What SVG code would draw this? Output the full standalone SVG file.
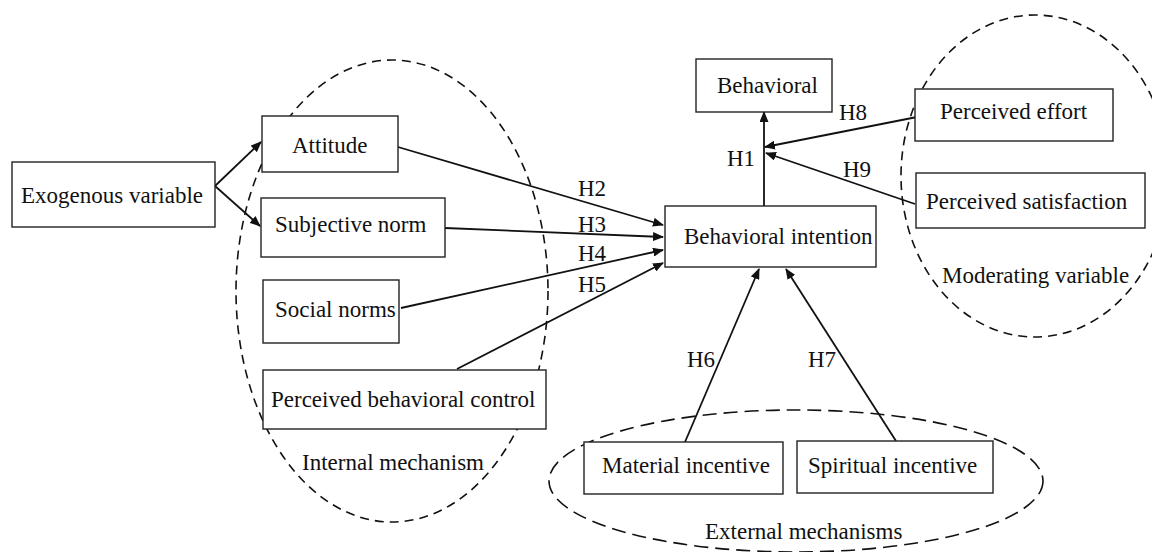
<svg xmlns="http://www.w3.org/2000/svg" width="1152" height="552" viewBox="0 0 1152 552">
<defs>
<style>
.box{fill:#fff;stroke:#222;stroke-width:1.4}
.e{fill:none;stroke:#111;stroke-width:1.6;stroke-dasharray:9 6}
.e2{fill:none;stroke:#111;stroke-width:1.6;stroke-dasharray:14 7}
.c{fill:none;stroke:#111;stroke-width:1.8;marker-end:url(#ah)}
</style>
<marker id="ah" markerUnits="userSpaceOnUse" markerWidth="11" markerHeight="9" refX="10" refY="4.5" orient="auto">
<path d="M0,0 L11,4.5 L0,9 Z" fill="#111"/>
</marker>
</defs>
<rect width="1152" height="552" fill="#fff"/>
<g font-family="Liberation Serif, Times New Roman, DejaVu Serif, serif" font-size="23" fill="#111">
<g id="groups">
<ellipse class="e" cx="392" cy="291" rx="156" ry="231"/>
<ellipse class="e" cx="1035" cy="176" rx="134" ry="161"/>
<ellipse class="e2" cx="796" cy="481" rx="247" ry="71"/>
<text x="302" y="470">Internal mechanism</text>
<text x="942" y="283">Moderating variable</text>
<text x="705" y="539">External mechanisms</text>
</g>
<g id="connectors">
<line class="c" x1="215" y1="186" x2="261" y2="142"/>
<line class="c" x1="215" y1="186" x2="260" y2="226"/>
<line class="c" x1="398" y1="147" x2="663" y2="225"/>
<line class="c" x1="445" y1="228" x2="663" y2="237"/>
<line class="c" x1="401" y1="308" x2="663" y2="250"/>
<line class="c" x1="457" y1="369" x2="663" y2="263"/>
<line class="c" x1="764" y1="206" x2="764" y2="112"/>
<line class="c" x1="917" y1="117" x2="765" y2="147"/>
<line class="c" x1="915" y1="204" x2="766" y2="153"/>
<line class="c" x1="685" y1="442" x2="759" y2="269"/>
<line class="c" x1="896" y1="441" x2="786" y2="269"/>
<text x="578" y="196">H2</text>
<text x="578" y="232">H3</text>
<text x="578" y="261">H4</text>
<text x="578" y="292">H5</text>
<text x="727" y="166">H1</text>
<text x="839" y="120">H8</text>
<text x="843" y="177">H9</text>
<text x="687" y="367">H6</text>
<text x="808" y="367">H7</text>
</g>
<g id="exogenous"><rect class="box" x="12" y="162" width="203" height="65"/><text x="21" y="203">Exogenous variable</text></g>
<g id="attitude"><rect class="box" x="262" y="116" width="136" height="56"/><text x="292" y="153">Attitude</text></g>
<g id="subjective-norm"><rect class="box" x="261" y="198" width="184" height="59"/><text x="275" y="232">Subjective norm</text></g>
<g id="social-norms"><rect class="box" x="263" y="280" width="136" height="63"/><text x="275" y="317">Social norms</text></g>
<g id="pbc"><rect class="box" x="263" y="370" width="283" height="59"/><text x="271" y="407">Perceived behavioral control</text></g>
<g id="behavioral"><rect class="box" x="696" y="59" width="136" height="53"/><text x="717" y="93">Behavioral</text></g>
<g id="behavioral-intention"><rect class="box" x="665" y="206" width="211" height="61"/><text x="684" y="244">Behavioral intention</text></g>
<g id="perceived-effort"><rect class="box" x="915" y="89" width="198" height="52"/><text x="940" y="119">Perceived effort</text></g>
<g id="perceived-satisfaction"><rect class="box" x="916" y="173" width="229" height="55"/><text x="926" y="209">Perceived satisfaction</text></g>
<g id="material-incentive"><rect class="box" x="584" y="442" width="199" height="52"/><text x="602" y="473">Material incentive</text></g>
<g id="spiritual-incentive"><rect class="box" x="797" y="441" width="196" height="52"/><text x="808" y="473">Spiritual incentive</text></g>
</g>
</svg>
